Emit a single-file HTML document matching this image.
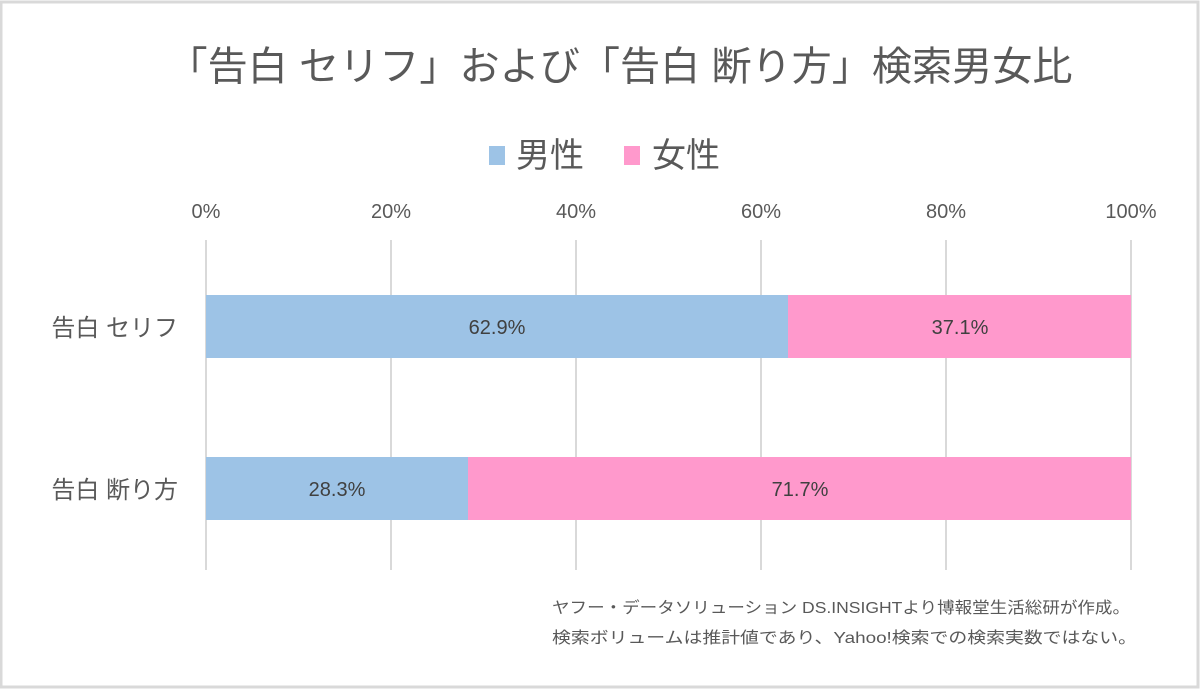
<!DOCTYPE html>
<html><head><meta charset="utf-8"><style>
body{margin:0;background:#fff;}
svg text{font-family:"Liberation Sans","Noto Sans CJK JP",sans-serif;}
</style></head><body>
<svg width="1200" height="691" xmlns="http://www.w3.org/2000/svg">
<rect x="0" y="0" width="1200" height="691" fill="#fff"/>
<rect x="1" y="2" width="1197" height="685" fill="none" stroke="#d9d9d9" stroke-width="3"/>
<text x="620" y="80" font-size="40" fill="#595959" text-anchor="middle" textLength="905" lengthAdjust="spacingAndGlyphs">「告白 セリフ」および「告白 断り方」検索男女比</text>
<rect x="489" y="146" width="16" height="19" fill="#9dc3e6"/>
<text x="516" y="167" font-size="34" fill="#595959">男性</text>
<rect x="624" y="146" width="16" height="19" fill="#ff99cc"/>
<text x="652" y="167" font-size="34" fill="#595959">女性</text>
<g font-size="20" fill="#595959" text-anchor="middle">
<text x="206" y="218">0%</text><text x="391" y="218">20%</text><text x="576" y="218">40%</text>
<text x="761" y="218">60%</text><text x="946" y="218">80%</text><text x="1131" y="218">100%</text>
</g>
<g stroke="#d9d9d9" stroke-width="2">
<line x1="206" y1="240" x2="206" y2="570"/><line x1="391" y1="240" x2="391" y2="570"/>
<line x1="576" y1="240" x2="576" y2="570"/><line x1="761" y1="240" x2="761" y2="570"/>
<line x1="946" y1="240" x2="946" y2="570"/><line x1="1131" y1="240" x2="1131" y2="570"/>
</g>
<rect x="206" y="295" width="582" height="63" fill="#9dc3e6"/>
<rect x="788" y="295" width="343" height="63" fill="#ff99cc"/>
<rect x="206" y="457" width="262" height="63" fill="#9dc3e6"/>
<rect x="468" y="457" width="663" height="63" fill="#ff99cc"/>
<g font-size="20" fill="#404040" text-anchor="middle">
<text x="497" y="334">62.9%</text><text x="960" y="334">37.1%</text>
<text x="337" y="496">28.3%</text><text x="800" y="496">71.7%</text>
</g>
<g font-size="24" fill="#595959" text-anchor="end">
<text x="178" y="336">告白 セリフ</text>
<text x="178" y="498">告白 断り方</text>
</g>
<g font-size="16" fill="#595959">
<text x="552" y="613" textLength="578" lengthAdjust="spacingAndGlyphs">ヤフー・データソリューション DS.INSIGHTより博報堂生活総研が作成。</text>
<text x="552" y="643" textLength="585" lengthAdjust="spacingAndGlyphs">検索ボリュームは推計値であり、Yahoo!検索での検索実数ではない。</text>
</g>
</svg>
</body></html>
